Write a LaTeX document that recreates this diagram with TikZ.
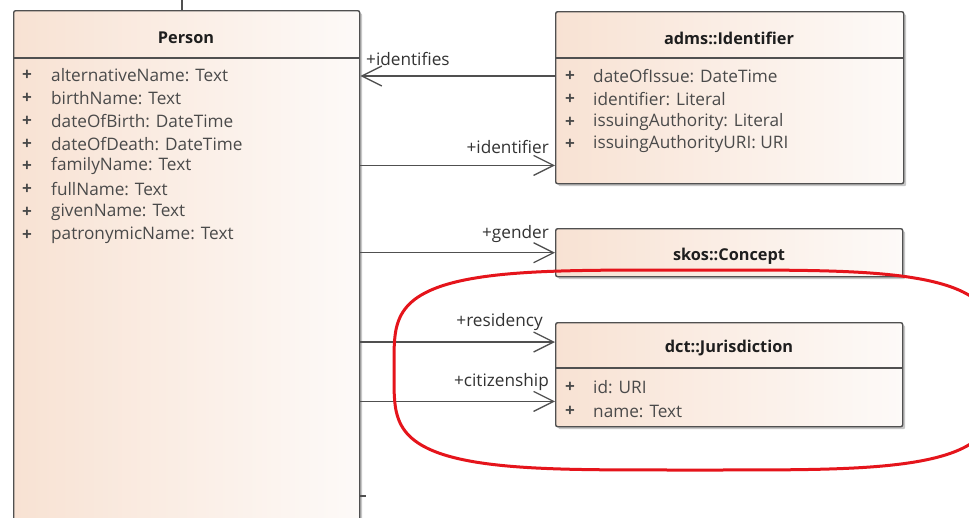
\documentclass[tikz,border=0pt]{standalone}
\usepackage{fontspec}
\setmainfont{Open Sans}
\usetikzlibrary{arrows.meta,shadows,calc}

\definecolor{umlborder}{HTML}{505050}
\definecolor{umlpeach}{HTML}{F8E2D3}
\definecolor{umlwhite}{HTML}{FDFAF8}
\definecolor{umltext}{HTML}{4A4A4A}
\definecolor{umltitle}{HTML}{1E1E1E}
\definecolor{umlrole}{HTML}{333333}
\definecolor{markred}{HTML}{E5141B}

\tikzset{
  classbox/.style={draw=umlborder, line width=1.4pt, rounded corners=2pt,
    left color=umlpeach, right color=umlwhite,
    drop shadow={shadow xshift=2.5pt, shadow yshift=-2.5pt, fill=black, opacity=0.22},
    inner sep=0pt, anchor=north west},
  headsep/.style={draw=umlborder, line width=1.2pt},
  classtitle/.style={font=\fontsize{16.3}{19}\selectfont\bfseries, text=umltitle, inner sep=0pt},
  attr/.style={font=\fontsize{17.2}{20}\selectfont, text=umltext, anchor=west, inner sep=0pt},
  vis/.style={font=\fontsize{17.2}{20}\selectfont\bfseries, text=umltext, anchor=west, inner sep=0pt},
  role/.style={font=\fontsize{17.2}{20}\selectfont, text=umlrole, inner sep=0pt},
  assoc/.style={draw=umlborder, line width=1.3pt,
    -{Straight Barb[length=20pt,width=20pt,line width=1.3pt]}},
  stub/.style={draw=umlborder, line width=1.3pt},
  marker/.style={draw=markred, line width=3pt}
}

\begin{document}
\begin{tikzpicture}[x=1pt,y=-1pt]
\useasboundingbox[fill=white] (0,0) rectangle (969,517);
\clip (0,0) rectangle (969,517);

% ---------- Person ----------
\node[classbox, minimum width=346pt, minimum height=525pt] (person) at (13,10) {};
\draw[headsep] (13,58) -- (359,58);
\node[classtitle] (persontitle) at (186,38) {Person};
\foreach \i/\t [count=\n] in {75/alternativeName: Text, 98/birthName: Text,
    121/dateOfBirth: DateTime, 144/dateOfDeath: DateTime, 166/familyName: Text,
    189/fullName: Text, 212/givenName: Text, 235/patronymicName: Text} {
  \node[vis] (pplus\n) at (22,\i) {+};
  \node[attr] (pattr\n) at (51,\i) {\t};
}

% ---------- adms::Identifier ----------
\node[classbox, minimum width=348pt, minimum height=172pt] (ident) at (555,11) {};
\draw[headsep] (555,58) -- (903,58);
\node[classtitle] (identtitle) at (729,38) {adms::Identifier};
\foreach \i/\t [count=\n] in {76/dateOfIssue: DateTime, 99/identifier: Literal,
    122/issuingAuthority: Literal, 144/issuingAuthorityURI: URI} {
  \node[vis] (iplus\n) at (565,\i) {+};
  \node[attr] (iattr\n) at (593,\i) {\t};
}

% ---------- skos::Concept ----------
\node[classbox, minimum width=347pt, minimum height=48pt] (concept) at (555,228) {};
\node[classtitle] (concepttitle) at (729,256) {skos::Concept};

% ---------- dct::Jurisdiction ----------
\node[classbox, minimum width=347pt, minimum height=104pt] (jur) at (555,322) {};
\draw[headsep] (555,368) -- (902,368);
\node[classtitle] (jurtitle) at (729,348) {dct::Jurisdiction};
\foreach \i/\t [count=\n] in {387/id: URI, 411/name: Text} {
  \node[vis] (jplus\n) at (565,\i) {+};
  \node[attr] (jattr\n) at (593,\i) {\t};
}

% ---------- connector end points ----------
\path ([yshift=19pt]ident.south west) coordinate (identin);
\path ([yshift=-20pt]jur.north west) coordinate (resin);
\path ([yshift=26pt]jur.south west) coordinate (citin);

% ---------- associations ----------
\draw[assoc] (ident.west |- iattr1) -- (person.east |- iattr1);
\node[role, anchor=south west] (rid) at (366,66) {+identifies};

\draw[assoc] (person.east |- identin) -- (identin);
\node[role, anchor=south east] (ridf) at (549,154) {+identifier};

\draw[assoc] (person.east |- concept.west) -- (concept.west);
\node[role, anchor=south east] (rgen) at (549,243) {+gender};

\draw[assoc] (person.east |- resin) -- (resin);
\node[role, anchor=south east] (rres) at (543,331) {+residency};

\draw[assoc] (person.east |- citin) -- (citin);
\node[role, anchor=south east] (rcit) at (549,391) {+citizenship};

% ---------- short cut-off connector ends ----------
\coordinate (topstub) at (182,0);
\draw[stub] (topstub) -- (182,10);
\coordinate (sidestub) at (366,496);
\draw[stub] (person.east |- sidestub) -- (sidestub);

% ---------- red highlight ----------
\draw[marker] plot[domain=0:358, samples=180, smooth cycle, variable=\t]
  ({695+301*sign(cos(\t))*sqrt(abs(cos(\t)))}, {370+100*sign(sin(\t))*sqrt(abs(sin(\t)))});
\end{tikzpicture}
\end{document}
